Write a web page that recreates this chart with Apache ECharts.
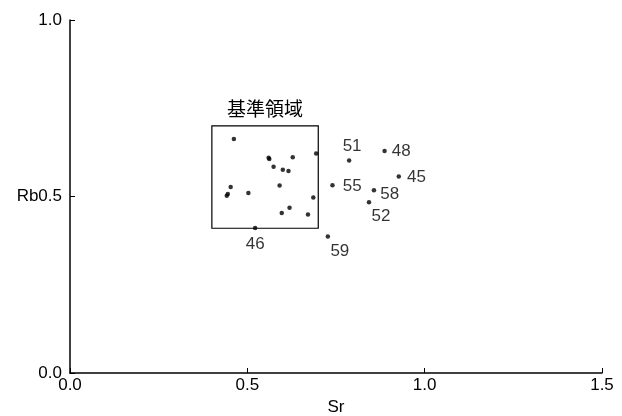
<!DOCTYPE html>
<html>
<head>
<meta charset="utf-8">
<script src="https://cdn.jsdelivr.net/npm/echarts@6/dist/echarts.min.js"></script>
<style>html,body{margin:0;padding:0;background:#fff;}#c{width:622px;height:416px;}</style>
</head>
<body>
<div id="c"></div>
<script>
// Data
const srValues = [0.462, 0.560, 0.562, 0.628, 0.694, 0.574, 0.600, 0.616, 0.453, 0.445, 0.442, 0.503, 0.591, 0.686, 0.619, 0.597, 0.671, 0.522, 0.727, 0.787, 0.887, 0.927, 0.740, 0.857, 0.843];
const rbValues = [0.663, 0.610, 0.606, 0.611, 0.622, 0.584, 0.576, 0.572, 0.527, 0.507, 0.502, 0.510, 0.531, 0.497, 0.468, 0.453, 0.449, 0.411, 0.387, 0.602, 0.629, 0.557, 0.532, 0.518, 0.484];
const pointNames = ['', '', '', '', '', '', '', '', '', '', '', '', '', '', '', '', '', '46', '59', '51', '48', '45', '55', '58', '52'];
const referenceBox = { name: '基準領域', srMin: 0.40, srMax: 0.70, rbMin: 0.41, rbMax: 0.70 };
const xTicks = [0.0, 0.5, 1.0, 1.5];
const yTicks = [0.0, 0.5, 1.0];

// label placement styles (not data)
const labelStyle = {
  '46': { position: 'bottom', distance: 6, offset: [0, 0] },
  '59': { position: 'bottom', distance: 4, offset: [12, 0] },
  '51': { position: 'top', distance: 3, offset: [3, 0] },
  '48': { position: 'right', distance: 5, offset: [0, 0] },
  '45': { position: 'right', distance: 6, offset: [0, 1] },
  '55': { position: 'right', distance: 8, offset: [0, 1] },
  '58': { position: 'right', distance: 4, offset: [0, 4] },
  '52': { position: 'bottom', distance: 3, offset: [12, 0] }
};

const FONT = 'Liberation Sans, Arial, sans-serif';
const points = srValues.map((x, i) => {
  const name = pointNames[i];
  const item = { value: [x, rbValues[i]], name: name };
  if (name) {
    const s = labelStyle[name];
    item.label = Object.assign({ show: true, formatter: name, color: '#000', fontSize: 17, fontFamily: FONT }, s);
  }
  return item;
});

const chart = echarts.init(document.getElementById('c'), null, { renderer: 'canvas' });
chart.setOption({
  backgroundColor: '#fff',
  animation: false,
  grid: { left: 70, right: 20, top: 20, bottom: 43, containLabel: false, outerBoundsMode: 'none' },
  xAxis: {
    type: 'value', min: xTicks[0], max: xTicks[xTicks.length - 1], interval: 0.5,
    name: 'Sr', nameLocation: 'middle', nameGap: 26,
    nameTextStyle: { color: '#000', fontSize: 17, fontFamily: FONT },
    axisLine: { show: true, lineStyle: { color: '#000', width: 1.5 } },
    axisTick: { show: true, inside: true, length: 5, lineStyle: { color: '#000', width: 1 } },
    axisLabel: { color: '#000', fontSize: 17, fontFamily: FONT, margin: 4, formatter: v => v.toFixed(1) },
    splitLine: { show: false }
  },
  yAxis: {
    type: 'value', min: yTicks[0], max: yTicks[yTicks.length - 1], interval: 0.5,
    axisLine: { show: true, lineStyle: { color: '#000', width: 1.5 } },
    axisTick: { show: true, inside: true, length: 5, lineStyle: { color: '#000', width: 1 } },
    axisLabel: { color: '#000', fontSize: 17, fontFamily: FONT, margin: 8,
      formatter: v => (v === 0.5 ? 'Rb' : '') + v.toFixed(1) },
    splitLine: { show: false }
  },
  series: [{
    type: 'scatter',
    symbol: 'circle',
    symbolSize: 4.5,
    itemStyle: { color: '#000' },
    data: points,
    markArea: {
      silent: true,
      itemStyle: { color: 'rgba(0,0,0,0)', borderColor: '#000', borderWidth: 1.2 },
      label: { show: true, position: 'top', distance: 7, color: '#000', fontSize: 19, fontFamily: 'Noto Sans CJK JP, sans-serif' },
      data: [[
        { name: referenceBox.name, xAxis: referenceBox.srMin, yAxis: referenceBox.rbMax },
        { xAxis: referenceBox.srMax, yAxis: referenceBox.rbMin }
      ]]
    }
  }]
});
</script>
</body>
</html>
